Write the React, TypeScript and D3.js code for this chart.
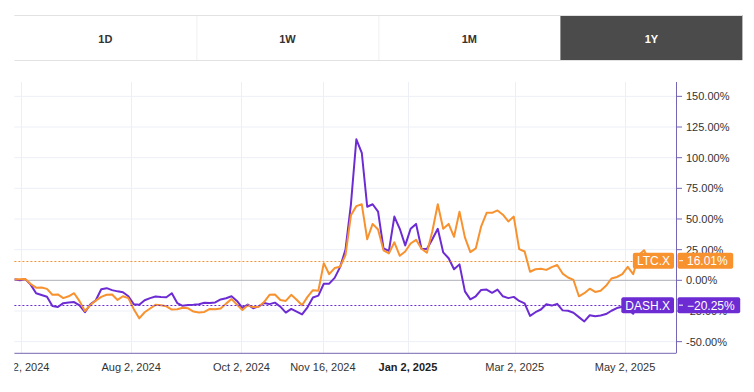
import React, { useEffect, useRef } from "react";
import * as d3 from "d3";

// one sample every 3 days, starting at the first session shown
const startDate = "2024-05-29T12:00:00";
const stepDays = 3;

const ltcValues = [
  0.8, 0.8, 1.0, -3.0, -6.0, -5.8, -7.0, -11.8, -11.5, -14.5,
  -13.0, -10.5, -17.0, -25.0, -20.2, -16.5, -13.5, -11.8, -11.5, -16.0,
  -13.0, -14.5, -23.5, -31.0, -26.0, -23.0, -20.0, -20.4, -21.2, -23.8,
  -23.6, -22.3, -22.8, -25.5, -26.3, -25.8, -23.3, -23.5, -23.0, -19.0,
  -15.3, -19.8, -24.2, -20.4, -21.8, -21.5, -17.7, -11.8, -11.5, -16.0,
  -16.8, -11.8, -15.8, -20.3, -13.5, -8.0, -8.5, 14.0, 5.0, 10.0,
  11.0, 20.5, 53.0, 60.5, 62.0, 33.5, 46.0, 41.5, 24.5, 22.0,
  31.0, 20.0, 23.5, 30.0, 33.0, 25.8, 22.5, 40.0, 62.0, 42.0,
  46.0, 35.5, 56.0, 35.0, 23.0, 26.0, 44.0, 55.0, 55.0, 57.0,
  53.5, 48.0, 52.0, 25.5, 23.5, 7.0, 9.0, 9.5, 8.5, 10.8,
  12.5, 5.5, 2.3, 0.3, -13.0, -10.5, -6.8, -9.5, -8.5, -4.5,
  1.5, 2.7, 5.0, 11.0, 5.0, 20.5, 24.5, 16.01,
];

const dashValues = [
  0.8, 0, 1.0, -3.5, -10.5, -12.0, -13.4, -21.0, -21.8, -18.6,
  -18.0, -17.7, -20.5, -26.0, -19.5, -16.3, -7.3, -6.4, -8.0, -9.0,
  -9.7, -13.0, -19.5, -20.0, -16.2, -14.5, -13.2, -13.6, -13.8, -10.5,
  -18.5, -20.8, -20.2, -20.0, -19.5, -18.3, -18.5, -18.0, -15.6, -14.6,
  -13.0, -16.8, -22.5, -19.8, -22.8, -21.2, -18.5, -19.4, -18.2, -21.5,
  -26.3, -23.3, -25.6, -27.8, -22.0, -14.0, -12.5, -2.8, -2.7, 2.0,
  10.8, 25.0, 62.0, 115.0, 104.0, 60.0, 62.0, 56.0, 26.0, 24.0,
  52.0, 42.0, 28.5, 42.0, 46.0, 25.8, 25.5, 33.5, 42.0, 22.8,
  18.0, 9.0, 13.0, -9.0, -15.5, -13.0, -7.8, -7.5, -10.2, -7.6,
  -13.0, -14.5, -13.5, -16.8, -18.8, -29.0, -26.0, -23.8, -19.5, -20.6,
  -19.2, -24.5, -24.8, -26.4, -30.0, -33.5, -28.5, -29.3, -28.7, -27.5,
  -24.8, -22.6, -21.5, -23.0, -27.3, -16.0, -19.0, -20.25,
];

const seriesNames = ["LTC.X", "DASH.X"];
const seriesColors = ["#f7922f", "#6c2bd3"];

const xTickDates = ["2024-06-02", "2024-08-02", "2024-10-02", "2024-11-16", "2025-01-02", "2025-03-02", "2025-05-02"];
const xTickLabels = ["Jun 2, 2024", "Aug 2, 2024", "Oct 2, 2024", "Nov 16, 2024", "Jan 2, 2025", "Mar 2, 2025", "May 2, 2025"];
const yTicks = [150, 125, 100, 75, 50, 25, 0, -25, -50];
const tabs = ["1D", "1W", "1M", "1Y"];
const activeTab = "1Y";

const W = 754, H = 392;
const font = "'Liberation Sans', Arial, sans-serif";

export default function App() {
  const ref = useRef<SVGSVGElement>(null);

  useEffect(() => {
    const svg = d3.select(ref.current);
    svg.selectAll("*").remove();

    // --- tabs
    const tabLeft = 14.4, tabW = 182, tabTop = 15, tabBottom = 60;
    const tg = svg.append("g");
    tabs.forEach((t, i) => {
      const x0 = tabLeft + i * tabW;
      if (t === activeTab) {
        tg.append("rect").attr("x", x0).attr("y", tabTop).attr("width", tabW).attr("height", tabBottom - tabTop).attr("fill", "#4b4b4b");
      } else if (i > 0) {
        tg.append("line").attr("x1", x0 + 0.5).attr("x2", x0 + 0.5).attr("y1", tabTop).attr("y2", tabBottom).attr("stroke", "#efefef");
      }
      tg.append("text")
        .attr("x", x0 + tabW / 2).attr("y", (tabTop + tabBottom) / 2 + 1)
        .attr("text-anchor", "middle").attr("dominant-baseline", "central")
        .style("font-family", font).style("font-size", "11px").style("font-weight", "bold")
        .attr("fill", t === activeTab ? "#fff" : "#333")
        .text(t);
    });
    [tabTop + 0.5, tabBottom + 0.5].forEach((y) => {
      tg.append("line").attr("x1", tabLeft).attr("x2", tabLeft + 4 * tabW).attr("y1", y).attr("y2", y).attr("stroke", "#e2e2e2");
    });

    // --- scales
    const left = 14.4, right = 676, top = 82, bottom = 353.3;
    const parse = (s: string) => new Date(s + (s.length === 10 ? "T00:00:00" : ""));
    const x = d3.scaleTime()
      .domain([parse("2024-05-29T12:00:00"), parse("2025-05-30T04:00:00")])
      .range([left, right]);
    const y = d3.scaleLinear().domain([-59.5, 161.7]).range([bottom, top]);

    const t0 = parse(startDate);
    const dates = ltcValues.map((_, i) => d3.timeDay.offset(t0, i * stepDays));
    const series = [ltcValues, dashValues];

    // --- grid
    const grid = svg.append("g");
    yTicks.filter((v) => v !== 0).forEach((v) => {
      grid.append("line").attr("x1", left).attr("x2", right).attr("y1", y(v)).attr("y2", y(v)).attr("stroke", "#edeff7");
    });
    xTickDates.forEach((d) => {
      const px = Math.round(x(parse(d))) + 0.5;
      grid.append("line").attr("x1", px).attr("x2", px).attr("y1", top).attr("y2", bottom).attr("stroke", "#edeff7");
    });
    grid.append("line").attr("x1", left).attr("x2", right).attr("y1", y(0)).attr("y2", y(0)).attr("stroke", "#aeaeb8");

    // --- lines
    svg.append("clipPath").attr("id", "plotclip").append("rect")
      .attr("x", left).attr("y", top).attr("width", right - left).attr("height", bottom - top);
    const line = d3.line<number>()
      .x((_, i) => x(dates[i]))
      .y((v) => y(v));

    // last-value guides
    const lastVals = series.map((s) => s[s.length - 1]);

    const lg = svg.append("g").attr("clip-path", "url(#plotclip)");
    [1, 0].forEach((k) => {
      lg.append("path").datum(series[k]).attr("d", line)
        .attr("fill", "none").attr("stroke", seriesColors[k])
        .attr("stroke-width", 2).attr("stroke-linejoin", "round");
    });

    // --- axes
    const ax = svg.append("g");
    ax.append("line").attr("x1", right + 0.5).attr("x2", right + 0.5).attr("y1", top).attr("y2", bottom).attr("stroke", "#7566b3");
    ax.append("line").attr("x1", left).attr("x2", right).attr("y1", bottom).attr("y2", bottom).attr("stroke", "#7566b3");
    yTicks.forEach((v) => {
      ax.append("line").attr("x1", right).attr("x2", right + 6).attr("y1", y(v)).attr("y2", y(v)).attr("stroke", "#7566b3");
      ax.append("text")
        .attr("x", right + 10).attr("y", y(v))
        .attr("dominant-baseline", "central")
        .style("font-family", font).style("font-size", "11px")
        .attr("fill", "#333")
        .text(v.toFixed(2) + "%");
    });

    svg.append("clipPath").attr("id", "xclip").append("rect")
      .attr("x", left).attr("y", bottom).attr("width", W - left).attr("height", H - bottom);
    const xg = svg.append("g").attr("clip-path", "url(#xclip)");
    xTickDates.forEach((d, i) => {
      const bold = xTickLabels[i].startsWith("Jan");
      xg.append("text")
        .attr("x", x(parse(d))).attr("y", 367)
        .attr("text-anchor", "middle").attr("dominant-baseline", "central")
        .style("font-family", font).style("font-size", "11px")
        .style("font-weight", bold ? "bold" : "normal")
        .attr("fill", bold ? "#222" : "#333")
        .text(xTickLabels[i]);
    });

    // --- last value labels
    const bg = svg.append("g");
    series.forEach((_, k) => {
      const cy = y(lastVals[k]);
      const col = seriesColors[k];
      const g = bg.append("g");
      const guide = g.append("line").attr("x1", left).attr("y1", Math.round(cy) + 0.5).attr("y2", Math.round(cy) + 0.5)
        .attr("stroke", col).attr("stroke-dasharray", "2,2");

      const nameRect = g.append("rect");
      const nameText = g.append("text")
        .attr("x", right - 2 - 4).attr("y", cy + 0.5)
        .attr("text-anchor", "end").attr("dominant-baseline", "central")
        .style("font-family", font).style("font-size", "12px").attr("fill", "#fff")
        .text(seriesNames[k]);
      const nw = (nameText.node() as SVGTextElement).getComputedTextLength();
      const nx = right - 2 - nw - 8;
      nameRect.attr("x", nx).attr("y", cy - 8).attr("width", nw + 8).attr("height", 16).attr("rx", 2).attr("fill", col);
      guide.attr("x2", nx);

      const valRect = g.append("rect");
      g.append("line").attr("x1", right + 3).attr("x2", right + 7).attr("y1", cy).attr("y2", cy).attr("stroke", "#fff");
      const vStr = (lastVals[k] < 0 ? "\u2212" + Math.abs(lastVals[k]).toFixed(2) : lastVals[k].toFixed(2)) + "%";
      const valText = g.append("text")
        .attr("x", right + 11).attr("y", cy + 0.5)
        .attr("dominant-baseline", "central")
        .style("font-family", font).style("font-size", "12px").attr("fill", "#fff")
        .text(vStr);
      const vw = (valText.node() as SVGTextElement).getComputedTextLength();
      valRect.attr("x", right + 1.5).attr("y", cy - 8).attr("width", vw + 15).attr("height", 16).attr("rx", 2).attr("fill", col);
    });
  }, []);

  return (
    <svg
      ref={ref}
      width={W}
      height={H}
      style={{ position: "absolute", left: 0, top: 0, background: "#fff" }}
    />
  );
}
